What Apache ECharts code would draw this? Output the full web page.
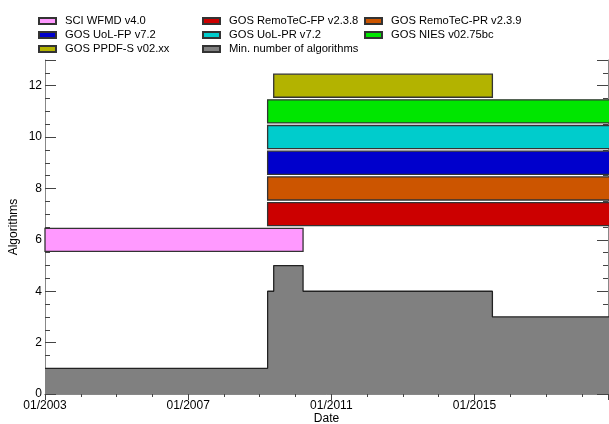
<!DOCTYPE html>
<html>
<head>
<meta charset="utf-8">
<script src="https://cdn.jsdelivr.net/npm/echarts@6/dist/echarts.min.js"></script>
<style>
html,body{margin:0;padding:0;background:#fff;}
#chart{width:609px;height:424px;}
</style>
</head>
<body>
<div id="chart"></div>
<script>
// ---- data (decimal years) ----
const barNames  = ['SCI WFMD v4.0','GOS RemoTeC-FP v2.3.8','GOS RemoTeC-PR v2.3.9','GOS UoL-FP v7.2','GOS UoL-PR v7.2','GOS NIES v02.75bc','GOS PPDF-S v02.xx'];
const barColors = ['#FF99FF','#CC0000','#CC5500','#0000CC','#00CCCC','#00E600','#B3B300'];
const barStart  = [2003.0, 2009.22, 2009.22, 2009.22, 2009.22, 2009.22, 2009.39];
const barEnd    = [2010.21, 2018.8, 2018.8, 2018.8, 2018.8, 2018.8, 2015.5];
const barLevel  = [6, 7, 8, 9, 10, 11, 12];

const minName   = 'Min. number of algorithms';
const minDates  = [2003.0, 2009.22, 2009.39, 2010.21, 2015.5, 2018.8];
const minCounts = [1, 4, 5, 4, 3, 3];

const xTicks = [2003, 2007, 2011, 2015];
const yTicks = [0, 2, 4, 6, 8, 10, 12];

const xMin = 2003, xMax = 2018.73, yMin = 0, yMax = 13;
const barThick = 0.9;

const chart = echarts.init(document.getElementById('chart'));
const font = 'Liberation Sans, Arial, Helvetica, sans-serif';

function renderBar(params, api) {
  const s = api.value(0), e = api.value(1), lv = api.value(2);
  const p0 = api.coord([s, lv + barThick / 2]);
  const p1 = api.coord([e, lv - barThick / 2]);
  const rect = echarts.graphic.clipRectByRect(
    {x: p0[0], y: p0[1], width: p1[0] - p0[0], height: p1[1] - p0[1]},
    {x: params.coordSys.x, y: params.coordSys.y, width: params.coordSys.width + 2, height: params.coordSys.height}
  );
  return rect && {type: 'rect', shape: rect, style: api.style({stroke: '#333', lineWidth: 1.3})};
}

const series = barNames.map((n, i) => ({
  name: n,
  type: 'custom',
  renderItem: renderBar,
  itemStyle: {color: barColors[i], borderColor: '#333', borderWidth: 1},
  encode: {x: [0, 1], y: 2},
  data: [[barStart[i], barEnd[i], barLevel[i]]],
  z: 3
}));
series.push({
  name: minName,
  type: 'line',
  step: 'end',
  symbol: 'none',
  data: minDates.map((d, i) => [d, minCounts[i]]),
  lineStyle: {color: '#222', width: 1.3},
  areaStyle: {color: '#808080', opacity: 1},
  itemStyle: {color: '#808080', borderColor: '#333', borderWidth: 1},
  z: 2
});

const legendBase = {
  orient: 'vertical',
  top: 9,
  itemWidth: 17,
  itemHeight: 6,
  itemGap: 0,
  icon: 'rect',
  textStyle: {fontFamily: font, fontSize: 11.2, color: '#000', lineHeight: 14, padding: [0, 0, 0, 4]},
  selectedMode: false
};

const axisCommon = {
  axisLine: {lineStyle: {color: '#888', width: 1}},
  splitLine: {show: false},
  axisLabel: {fontFamily: font, fontSize: 12, color: '#000'}
};

const option = {
  animation: false,
  backgroundColor: '#fff',
  legend: [
    Object.assign({}, legendBase, {left: 33, data: [barNames[0], barNames[3], barNames[6]]}),
    Object.assign({}, legendBase, {left: 197, data: [barNames[1], barNames[4], minName]}),
    Object.assign({}, legendBase, {left: 359, data: [barNames[2], barNames[5]]})
  ],
  grid: {left: 45, right: 1, top: 60, bottom: 30, containLabel: false, outerBoundsMode: 'none'},
  xAxis: [
    Object.assign({}, axisCommon, {
      type: 'value', min: xMin, max: xMax, interval: 4,
      name: 'Date', nameLocation: 'middle', nameGap: 19, nameMoveOverlap: false,
      nameTextStyle: {fontFamily: font, fontSize: 12, color: '#000'},
      axisTick: {inside: true, length: 6, lineStyle: {color: '#444'}},
      minorTick: {show: true, splitNumber: 4, length: 3, lineStyle: {color: '#444'}},
      axisLabel: {fontFamily: font, fontSize: 12, color: '#000', margin: 6,
        formatter: v => xTicks.indexOf(v) >= 0 ? '01/' + v : ''}
    }),
    Object.assign({}, axisCommon, {
      type: 'value', min: xMin, max: xMax, interval: 4, position: 'top',
      axisTick: {inside: true, length: 6, lineStyle: {color: '#444'}},
      minorTick: {show: true, splitNumber: 4, length: 3, lineStyle: {color: '#444'}},
      axisLabel: {show: false}
    })
  ],
  yAxis: [
    Object.assign({}, axisCommon, {
      type: 'value', min: yMin, max: yMax, interval: 2,
      name: 'Algorithms', nameLocation: 'middle', nameGap: 25, nameMoveOverlap: false,
      nameTextStyle: {fontFamily: font, fontSize: 12, color: '#000'},
      axisTick: {inside: true, length: 11, lineStyle: {color: '#444'}},
      minorTick: {show: true, splitNumber: 4, length: 5, lineStyle: {color: '#444'}},
      axisLabel: {fontFamily: font, fontSize: 12, color: '#000', margin: 3,
        formatter: v => yTicks.indexOf(v) >= 0 ? String(v) : ''}
    }),
    Object.assign({}, axisCommon, {
      type: 'value', min: yMin, max: yMax, interval: 2, position: 'right',
      axisTick: {inside: true, length: 11, lineStyle: {color: '#444'}},
      minorTick: {show: true, splitNumber: 4, length: 5, lineStyle: {color: '#444'}},
      axisLabel: {show: false}
    })
  ],
  series: series
};
chart.setOption(option);
</script>
</body>
</html>
